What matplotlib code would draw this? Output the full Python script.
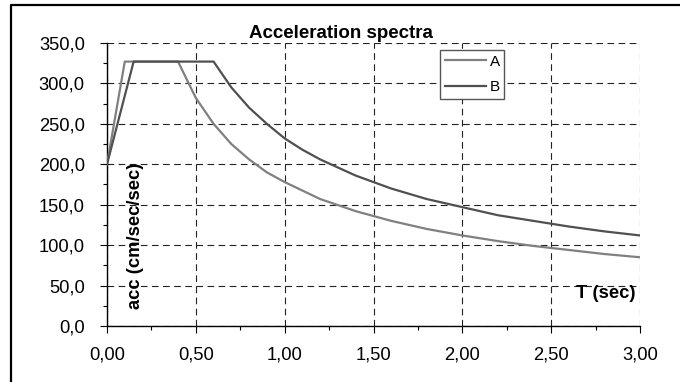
import matplotlib
matplotlib.use("Agg")
import matplotlib.pyplot as plt
from matplotlib.lines import Line2D
from matplotlib.ticker import MultipleLocator, FuncFormatter

plt.rcParams['font.family'] = ['Liberation Sans', 'DejaVu Sans']

# Data
T_A = [0.0, 0.1, 0.4, 0.5, 0.6, 0.7, 0.8, 0.9, 1.0, 1.2, 1.4, 1.6, 1.8,
       2.0, 2.2, 2.4, 2.6, 2.8, 3.0]
acc_A = [200, 327, 327, 282, 250, 225, 206, 190, 178, 157, 142, 130, 120,
         112, 105, 99, 94, 89, 85]

T_B = [0.0, 0.15, 0.6, 0.7, 0.8, 0.9, 1.0, 1.1, 1.2, 1.4, 1.6, 1.8,
       2.0, 2.2, 2.4, 2.6, 2.8, 3.0]
acc_B = [200, 327, 327, 295, 270, 250, 232, 218, 206, 186, 170, 157,
         147, 137, 130, 123, 117, 112]

series_names = ["A", "B"]
title = "Acceleration spectra"
xlabel = "T (sec)"
ylabel = "acc (cm/sec/sec)"

W, H = 680, 382
fig = plt.figure(figsize=(W / 100, H / 100), dpi=100)
ax = fig.add_axes([107 / W, 1 - 326 / H, (640 - 107) / W, (326 - 43) / H])

ax.plot(T_A, acc_A, color="#808080", lw=1.6, label=series_names[0], zorder=3)
ax.plot(T_B, acc_B, color="#505050", lw=1.6, label=series_names[1], zorder=3)

ax.set_xlim(0, 3.0)
ax.set_ylim(0, 350)
ax.xaxis.set_major_locator(MultipleLocator(0.5))
ax.xaxis.set_minor_locator(MultipleLocator(0.25))
ax.yaxis.set_major_locator(MultipleLocator(50))
ax.yaxis.set_minor_locator(MultipleLocator(25))
ax.xaxis.set_major_formatter(FuncFormatter(lambda v, p: f"{v:.2f}".replace(".", ",")))
ax.yaxis.set_major_formatter(FuncFormatter(lambda v, p: f"{v:.1f}".replace(".", ",")))

for s in ["top", "right"]:
    ax.spines[s].set_visible(False)
for s in ["left", "bottom"]:
    ax.spines[s].set_linewidth(1.0)
    ax.spines[s].set_color("black")

ax.tick_params(axis="both", which="major", labelsize=13.2, length=5, width=0.8,
               direction="out", color="black")
ax.tick_params(axis="y", which="major", pad=11)
ax.tick_params(axis="x", which="major", pad=10)
ax.tick_params(axis="both", which="minor", length=3, width=0.8, direction="out")

ax.grid(True, which="major", color="#222222", lw=0.8, linestyle=(0, (6, 4)))
ax.set_axisbelow(True)

ax.text((136 - 107) / 533, (326 - 236) / 283, ylabel, transform=ax.transAxes,
        rotation=90, ha="center", va="center", fontsize=13.2, fontweight="bold")
ax.text((636 - 107) / 533, (326 - 294) / 283, xlabel, transform=ax.transAxes,
        ha="right", va="center", fontsize=13.2, fontweight="bold")
fig.text(341 / W, 1 - 33 / H, title, ha="center", va="center",
         fontsize=13.5, fontweight="bold")

leg = ax.legend(loc="upper left", bbox_to_anchor=(440 / W, 1 - 50 / H),
                bbox_transform=fig.transFigure, fontsize=11, frameon=True,
                fancybox=False, framealpha=1, edgecolor="#555555",
                borderpad=0.3, labelspacing=0.75, handlelength=2.7,
                handletextpad=0.25, borderaxespad=0)
leg.get_frame().set_linewidth(1.0)

# outer chart border (left and top visible)
fig.add_artist(Line2D([11 / W, 11 / W, 1.0], [0.0, 1 - 5 / H, 1 - 5 / H],
                      transform=fig.transFigure, color="black", lw=1.6))

fig.savefig("out.png", dpi=100)
